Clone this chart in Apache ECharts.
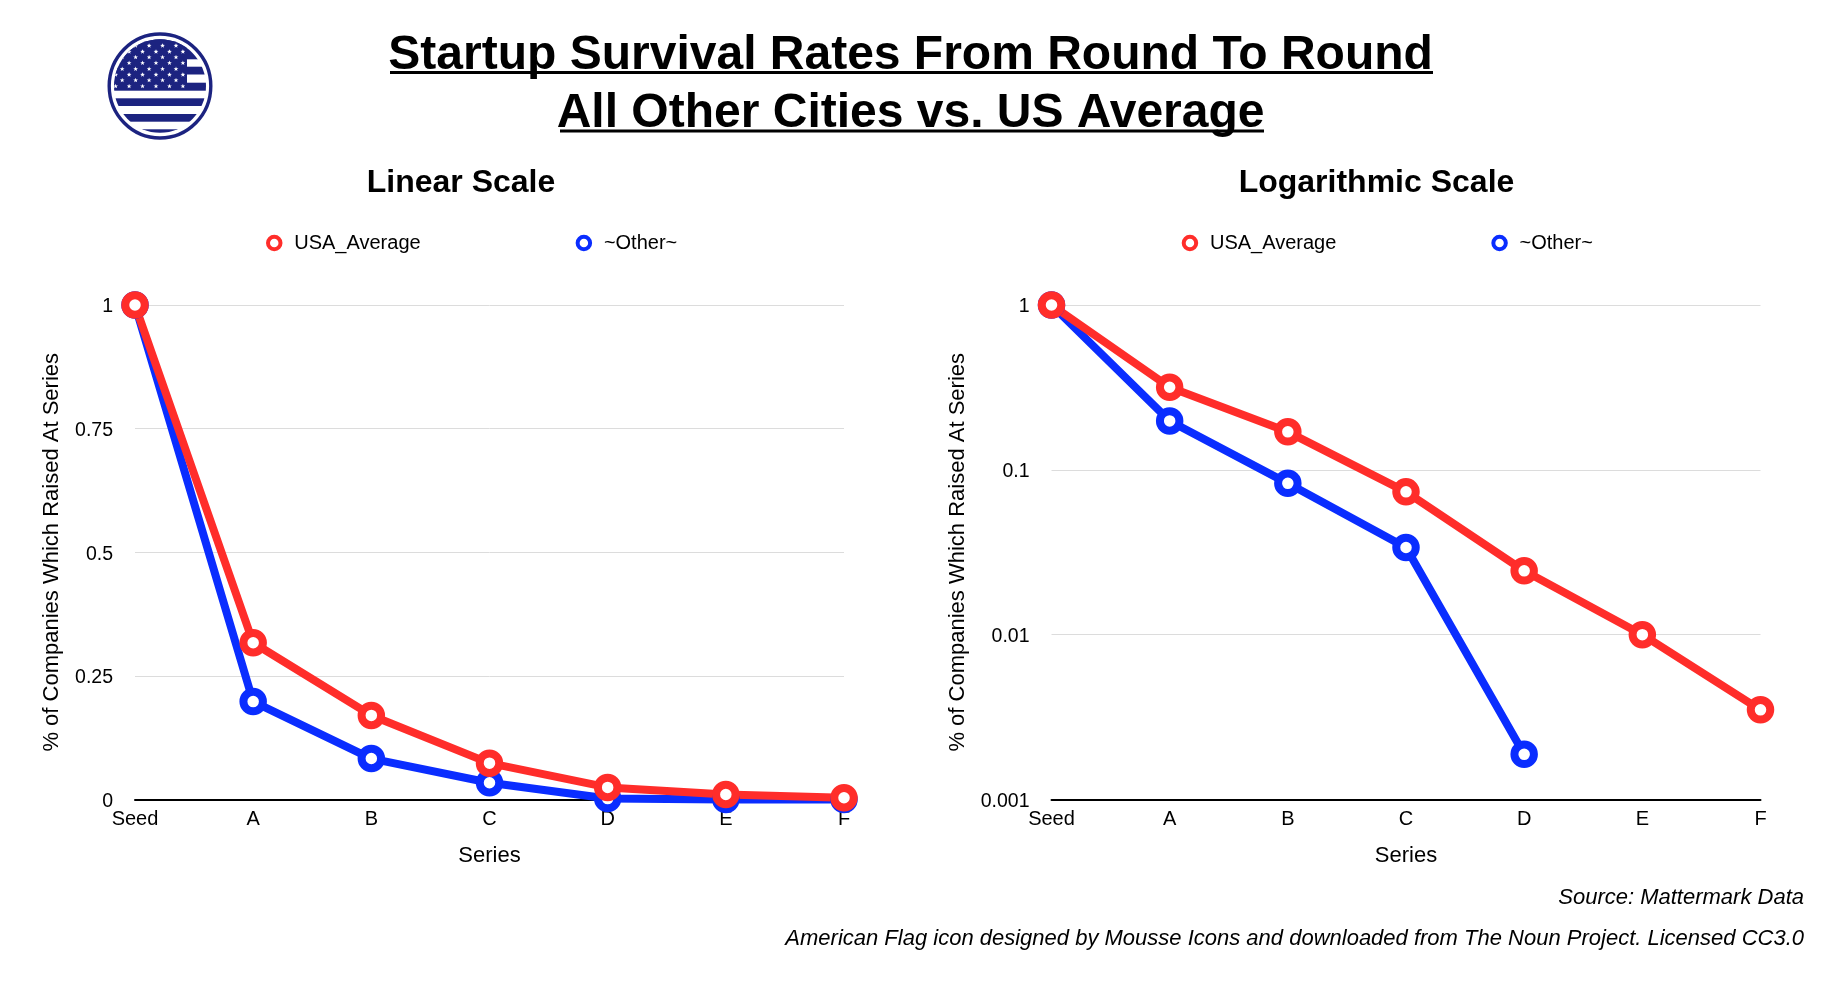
<!DOCTYPE html>
<html>
<head>
<meta charset="utf-8">
<title>Startup Survival Rates</title>
<script src="https://cdn.jsdelivr.net/npm/echarts@6/dist/echarts.min.js"></script>
<style>
    html, body { margin: 0; padding: 0; background: #fff; }
    #chart { width: 1826px; height: 982px; }
</style>
</head>
<body>
<div id="chart"></div>
<script>
const categories = ['Seed', 'A', 'B', 'C', 'D', 'E', 'F']
const usaValues = [1, 0.317, 0.17, 0.0735, 0.0244, 0.01, 0.0035]
const otherValues = [1, 0.198, 0.0828, 0.0338, 0.00188, 0, 0]
const linearTicks = [0, 0.25, 0.5, 0.75, 1]
const RED = '#ff2d2a'
const BLUE = '#0a2dff'
const NAVY = '#1c2380'
const FONT = '"Liberation Sans", Arial, sans-serif'

// flag icon, drawn as svg in page coordinates
function flagIcon() {
    const stripes = [[30, 59.3], [66.7, 74.5], [82.7, 90.7], [98.3, 106], [114, 121.7], [129.3, 137]]
    let stars = ''
    const rows = [45.7, 51.7, 57.3, 63, 69, 74.7, 80.3, 86.3]
    rows.forEach((y, r) => {
        const start = r % 2 ? 182.9 : 176
        for (let k = 0; k < 7; k++) {
            const cx = start - k * 13.45
            let pts = []
            for (let i = 0; i < 10; i++) {
                const rad = i % 2 ? 1.05 : 2.5
                const ang = -Math.PI / 2 + i * Math.PI / 5
                pts.push((cx + rad * Math.cos(ang)).toFixed(2) + ',' + (y + rad * Math.sin(ang)).toFixed(2))
            }
            stars += `<polygon points="${pts.join(' ')}" fill="#fff"/>`
        }
    })
    const bars = stripes.map(s =>
        `<rect x="100" y="${s[0]}" width="120" height="${s[1] - s[0]}" fill="${NAVY}"/>`).join('')
    const svg = `<svg xmlns="http://www.w3.org/2000/svg" width="120" height="120" viewBox="100 26 120 120">
        <defs><clipPath id="c"><ellipse cx="160" cy="86" rx="46" ry="46.7"/></clipPath></defs>
        <ellipse cx="160" cy="86" rx="50.8" ry="52" fill="#fff" stroke="${NAVY}" stroke-width="3.4"/>
        <g clip-path="url(#c)">${bars}
        <rect x="100" y="30" width="87" height="53" fill="${NAVY}"/>${stars}</g></svg>`
    return 'data:image/svg+xml;charset=utf-8,' + encodeURIComponent(svg)
}

function makeSeries(name, color, values, gridIndex) {
    return {
        name,
        type: 'line',
        xAxisIndex: gridIndex,
        yAxisIndex: gridIndex,
        data: values,
        symbol: 'circle',
        symbolSize: 19.5,
        showAllSymbol: true,
        clip: false,
        animation: false,
        connectNulls: false,
        lineStyle: { color, width: 8 },
        itemStyle: { color: '#fff', borderColor: color, borderWidth: 8 },
    }
}

function xAxis(gridIndex) {
    return {
        type: 'category',
        gridIndex,
        data: categories,
        boundaryGap: false,
        name: 'Series',
        nameLocation: 'middle',
        nameGap: 45.5,
        nameTextStyle: { fontFamily: FONT, fontSize: 22, color: '#000' },
        axisLine: { onZero: false, lineStyle: { color: '#000', width: 2 } },
        axisTick: { show: false },
        axisLabel: { fontFamily: FONT, fontSize: 20, color: '#000', margin: 10, interval: 0 },
        splitLine: { show: false },
    }
}

// labels sit a little under their gridline in the reference
const yLabelStyle = {
    margin: 22,
    formatter: v => `{a|${+(+v).toFixed(3)}}`,
    rich: { a: { fontFamily: FONT, fontSize: 19.5, color: '#000', padding: [4, 0, 0, 0] } },
}

function yAxis(gridIndex, nameGap, extra) {
    return Object.assign({
        gridIndex,
        name: '% of Companies Which Raised At Series',
        nameLocation: 'middle',
        nameGap,
        nameTextStyle: { fontFamily: FONT, fontSize: 22, color: '#000' },
        axisLine: { show: false },
        axisTick: { show: false },
        axisLabel: yLabelStyle,
        splitLine: { lineStyle: { color: '#dcdcdc', width: 1 } },
    }, extra)
}

function legend(left) {
    return {
        left,
        top: 228,
        orient: 'horizontal',
        itemWidth: 30,
        itemHeight: 12.5,
        itemGap: 155,
        symbolKeepAspect: true,
        textStyle: { fontFamily: FONT, fontSize: 20, color: '#000' },
        data: [
            { name: 'USA_Average', icon: 'circle', itemStyle: { color: '#fff', borderColor: RED, borderWidth: 4 } },
            { name: '~Other~', icon: 'circle', itemStyle: { color: '#fff', borderColor: BLUE, borderWidth: 4 } },
        ],
        selectedMode: false,
    }
}

const subTitle = (text, left) => ({
    text, left, top: 162, textAlign: 'center',
    textStyle: { fontFamily: FONT, fontSize: 32, fontWeight: 'bold', color: '#000' },
})
const footNote = (text, top) => ({
    text, right: 17, top,
    textStyle: { fontFamily: FONT, fontSize: 22, fontStyle: 'italic', fontWeight: 'normal', color: '#000' },
})

const option = {
    backgroundColor: '#fff',
    title: [
        {
            text: 'Startup Survival Rates From Round To Round\nAll Other Cities vs. US Average',
            left: 905.6, top: 21.7, textAlign: 'center',
            textStyle: { fontFamily: FONT, fontSize: 48, fontWeight: 'bold', color: '#000', lineHeight: 58 },
        },
        subTitle('Linear Scale', 456),
        subTitle('Logarithmic Scale', 1371.5),
        footNote('Source: Mattermark Data', 882),
        footNote('American Flag icon designed by Mousse Icons and downloaded from The Noun Project. Licensed CC3.0', 923),
    ],
    legend: [legend(261), legend(1176.7)],
    grid: [
        { left: 135, top: 305, width: 709, height: 494.5 },
        { left: 1051.5, top: 305, width: 709, height: 494.5 },
    ],
    xAxis: [xAxis(0), xAxis(1)],
    yAxis: [
        yAxis(0, 71.7, { type: 'value', min: linearTicks[0], max: linearTicks[4], interval: linearTicks[1] }),
        yAxis(1, 82.5, { type: 'log', logBase: 10, min: 0.001, max: 1 }),
    ],
    series: [
        makeSeries('~Other~', BLUE, otherValues, 0),
        makeSeries('USA_Average', RED, usaValues, 0),
        makeSeries('~Other~', BLUE, otherValues.map(v => (v > 0 ? v : null)), 1),
        makeSeries('USA_Average', RED, usaValues, 1),
    ],
    graphic: [
        { type: 'image', left: 100, top: 26, style: { image: flagIcon(), width: 120, height: 120 } },
        { type: 'rect', shape: { x: 390, y: 71, width: 1043, height: 3 }, style: { fill: '#000' } },
        { type: 'rect', shape: { x: 560, y: 129.5, width: 704, height: 3 }, style: { fill: '#000' } },
    ],
}

const chart = echarts.init(document.getElementById('chart'), null, { width: 1826, height: 982 })
chart.setOption(option)
</script>
</body>
</html>
